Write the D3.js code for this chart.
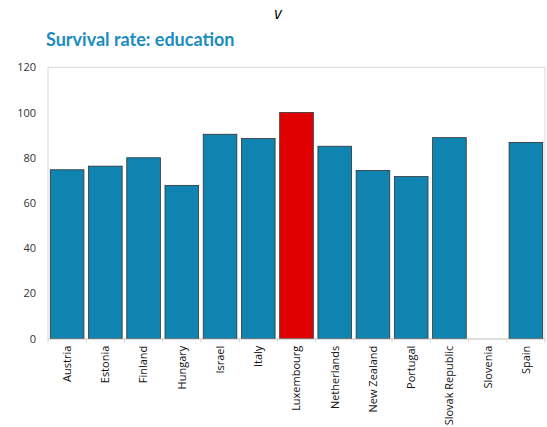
<!DOCTYPE html>
<html><head><meta charset="utf-8">
<script src="https://cdn.jsdelivr.net/npm/d3@7"></script>
<style>body{margin:0;background:#fff}</style>
</head><body>
<script>
const categories = ["Austria","Estonia","Finland","Hungary","Israel","Italy","Luxembourg","Netherlands","New Zealand","Portugal","Slovak Republic","Slovenia","Spain"];
const values = [74.7,76.3,80,67.8,90.4,88.5,100,85.1,74.4,71.7,88.9,null,86.8];
const highlight = ["Luxembourg"];
const yTicks = [0,20,40,60,80,100,120];
const titleText = "Survival rate: education";
const topText = "v";

const W = 547, H = 427;
const m = {left:48, right:2, top:67.3, bottom:88.3};
const svg = d3.select("body").append("svg").attr("width",W).attr("height",H);

const x = d3.scaleBand().domain(categories).range([m.left, W-m.right]).paddingInner(0.12).paddingOuter(0.06);
const y = d3.scaleLinear().domain([0,120]).range([H-m.bottom, m.top]);

svg.append("text").attr("x",278).attr("y",19).attr("text-anchor","middle")
  .attr("font-family","Open Sans, sans-serif").attr("font-style","italic").attr("font-size",16).attr("fill","#000").text(topText);
svg.append("text").attr("x",46).attr("y",46)
  .attr("font-family","Lato, sans-serif").attr("font-weight","bold").attr("font-size",18).attr("fill","#1a8cc0").text(titleText);

// frame
svg.append("rect").attr("x",m.left).attr("y",m.top).attr("width",W-m.right-m.left).attr("height",H-m.bottom-m.top)
  .attr("fill","none").attr("stroke","#d9d9d9").attr("stroke-width",1);

// y axis
const ya = svg.append("g").attr("transform",`translate(${m.left},0)`)
  .call(d3.axisLeft(y).tickValues(yTicks).tickSize(0).tickPadding(12));
ya.select(".domain").remove();
ya.selectAll("text").attr("font-family","Open Sans, sans-serif").attr("font-size",11).attr("fill","#333");

// bars
svg.append("g").selectAll("rect").data(categories.map((c,i)=>({c,v:values[i]})).filter(d=>d.v!=null))
  .join("rect")
  .attr("x",d=>x(d.c)).attr("width",x.bandwidth())
  .attr("y",d=>y(d.v)).attr("height",d=>y(0)-y(d.v))
  .attr("fill",d=>highlight.includes(d.c)?"#e00000":"#0f84b0")
  .attr("stroke","#333").attr("stroke-width",0.8);

// x axis
const xa = svg.append("g").attr("transform",`translate(0,${y(0)})`)
  .call(d3.axisBottom(x).tickSize(0).tickPadding(0));
xa.select(".domain").attr("stroke","#d9d9d9");
xa.selectAll("text").attr("font-family","Open Sans, sans-serif").attr("font-size",11).attr("fill","#111")
  .attr("transform","rotate(-90)").attr("text-anchor","end").attr("dx","-7").attr("dy","0.35em").attr("y",0).attr("x",0);
// tick marks between categories
const bounds = d3.range(categories.length+1).map(i=>m.left+i*x.step());
svg.append("g").selectAll("line").data(bounds).join("line")
  .attr("x1",d=>d).attr("x2",d=>d)
  .attr("y1",y(0)).attr("y2",y(0)+4).attr("stroke","#d9d9d9");
</script>
</body></html>
